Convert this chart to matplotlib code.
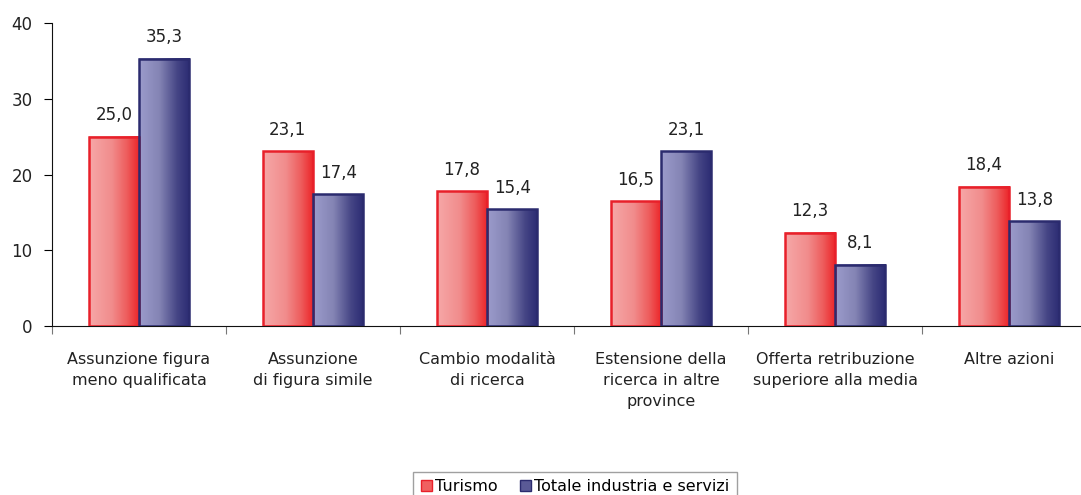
import numpy as np
import matplotlib.pyplot as plt
from matplotlib.colors import LinearSegmentedColormap
from matplotlib.patches import Patch

categories = [
    "Assunzione figura\nmeno qualificata",
    "Assunzione\ndi figura simile",
    "Cambio modalità\ndi ricerca",
    "Estensione della\nricerca in altre\nprovince",
    "Offerta retribuzione\nsuperiore alla media",
    "Altre azioni",
]
turismo = [25.0, 23.1, 17.8, 16.5, 12.3, 18.4]
totale = [35.3, 17.4, 15.4, 23.1, 8.1, 13.8]
series_names = ["Turismo", "Totale industria e servizi"]
yticks = [0, 10, 20, 30, 40]

red_cmap = LinearSegmentedColormap.from_list(
    "red", [(0, "#f6a8a8"), (0.45, "#f18c8c"), (0.75, "#ee5c5c"), (1, "#ec2226")])
blue_cmap = LinearSegmentedColormap.from_list(
    "blue", [(0, "#9c9ccc"), (0.4, "#8484b4"), (0.75, "#454585"), (1, "#2a2a72")])

fig = plt.figure(figsize=(10.81, 4.95), dpi=100)
ax = fig.add_axes([0.0481, 0.3414, 0.9658, 0.6121])

x = np.arange(len(categories))
w = 0.29
grad = np.linspace(0, 1, 256).reshape(1, -1)


def gradient_bars(xpos, vals, cmap, edge):
    for xi, v in zip(xpos, vals):
        ax.imshow(grad, cmap=cmap, aspect="auto", extent=[xi - w / 2, xi + w / 2, 0, v], zorder=2)
    ax.bar(xpos, vals, width=w, facecolor="none", edgecolor=edge, linewidth=1.8, zorder=3)
    for xi, v in zip(xpos, vals):
        ax.annotate(f"{v:.1f}".replace(".", ","), (xi, v), xytext=(0, 9),
                    textcoords="offset points", ha="center", va="bottom",
                    fontsize=12, color="#222222")


gradient_bars(x - w / 2, turismo, red_cmap, "#e8202a")
gradient_bars(x + w / 2, totale, blue_cmap, "#2b2b6e")

ax.set_xlim(-0.5, len(categories) - 0.5)
ax.set_ylim(0, 40)
ax.set_yticks(yticks)
ax.set_yticklabels([str(t) for t in yticks], fontsize=12, color="#222222")
ax.set_xticks(np.arange(len(categories) + 1) - 0.5)
ax.set_xticklabels([])
ax.set_xticks(x, minor=True)
ax.set_xticklabels(categories, minor=True, fontsize=11.5, color="#222222", va="top",
                   linespacing=1.5)
ax.tick_params(axis="x", which="minor", length=0, pad=19)
ax.tick_params(axis="x", which="major", length=6, direction="out", color="#777777")
ax.tick_params(axis="y", length=6, direction="out", pad=8)
for s in ["top", "right"]:
    ax.spines[s].set_visible(False)
ax.spines["left"].set_color("#111111")
ax.spines["bottom"].set_color("#111111")

handles = [Patch(facecolor="#f06060", edgecolor="#e8202a"),
           Patch(facecolor="#5a5a96", edgecolor="#2b2b6e")]
leg = fig.legend(handles, series_names, loc="upper center", bbox_to_anchor=(0.532, 0.062),
                 ncol=2, fontsize=11.5, frameon=True, fancybox=False, handlelength=0.7,
                 handleheight=0.7, handletextpad=0.2, columnspacing=1.4, borderpad=0.45)
leg.get_frame().set_edgecolor("#888888")
leg.get_frame().set_linewidth(1.0)

fig.savefig("out.png", dpi=100)
